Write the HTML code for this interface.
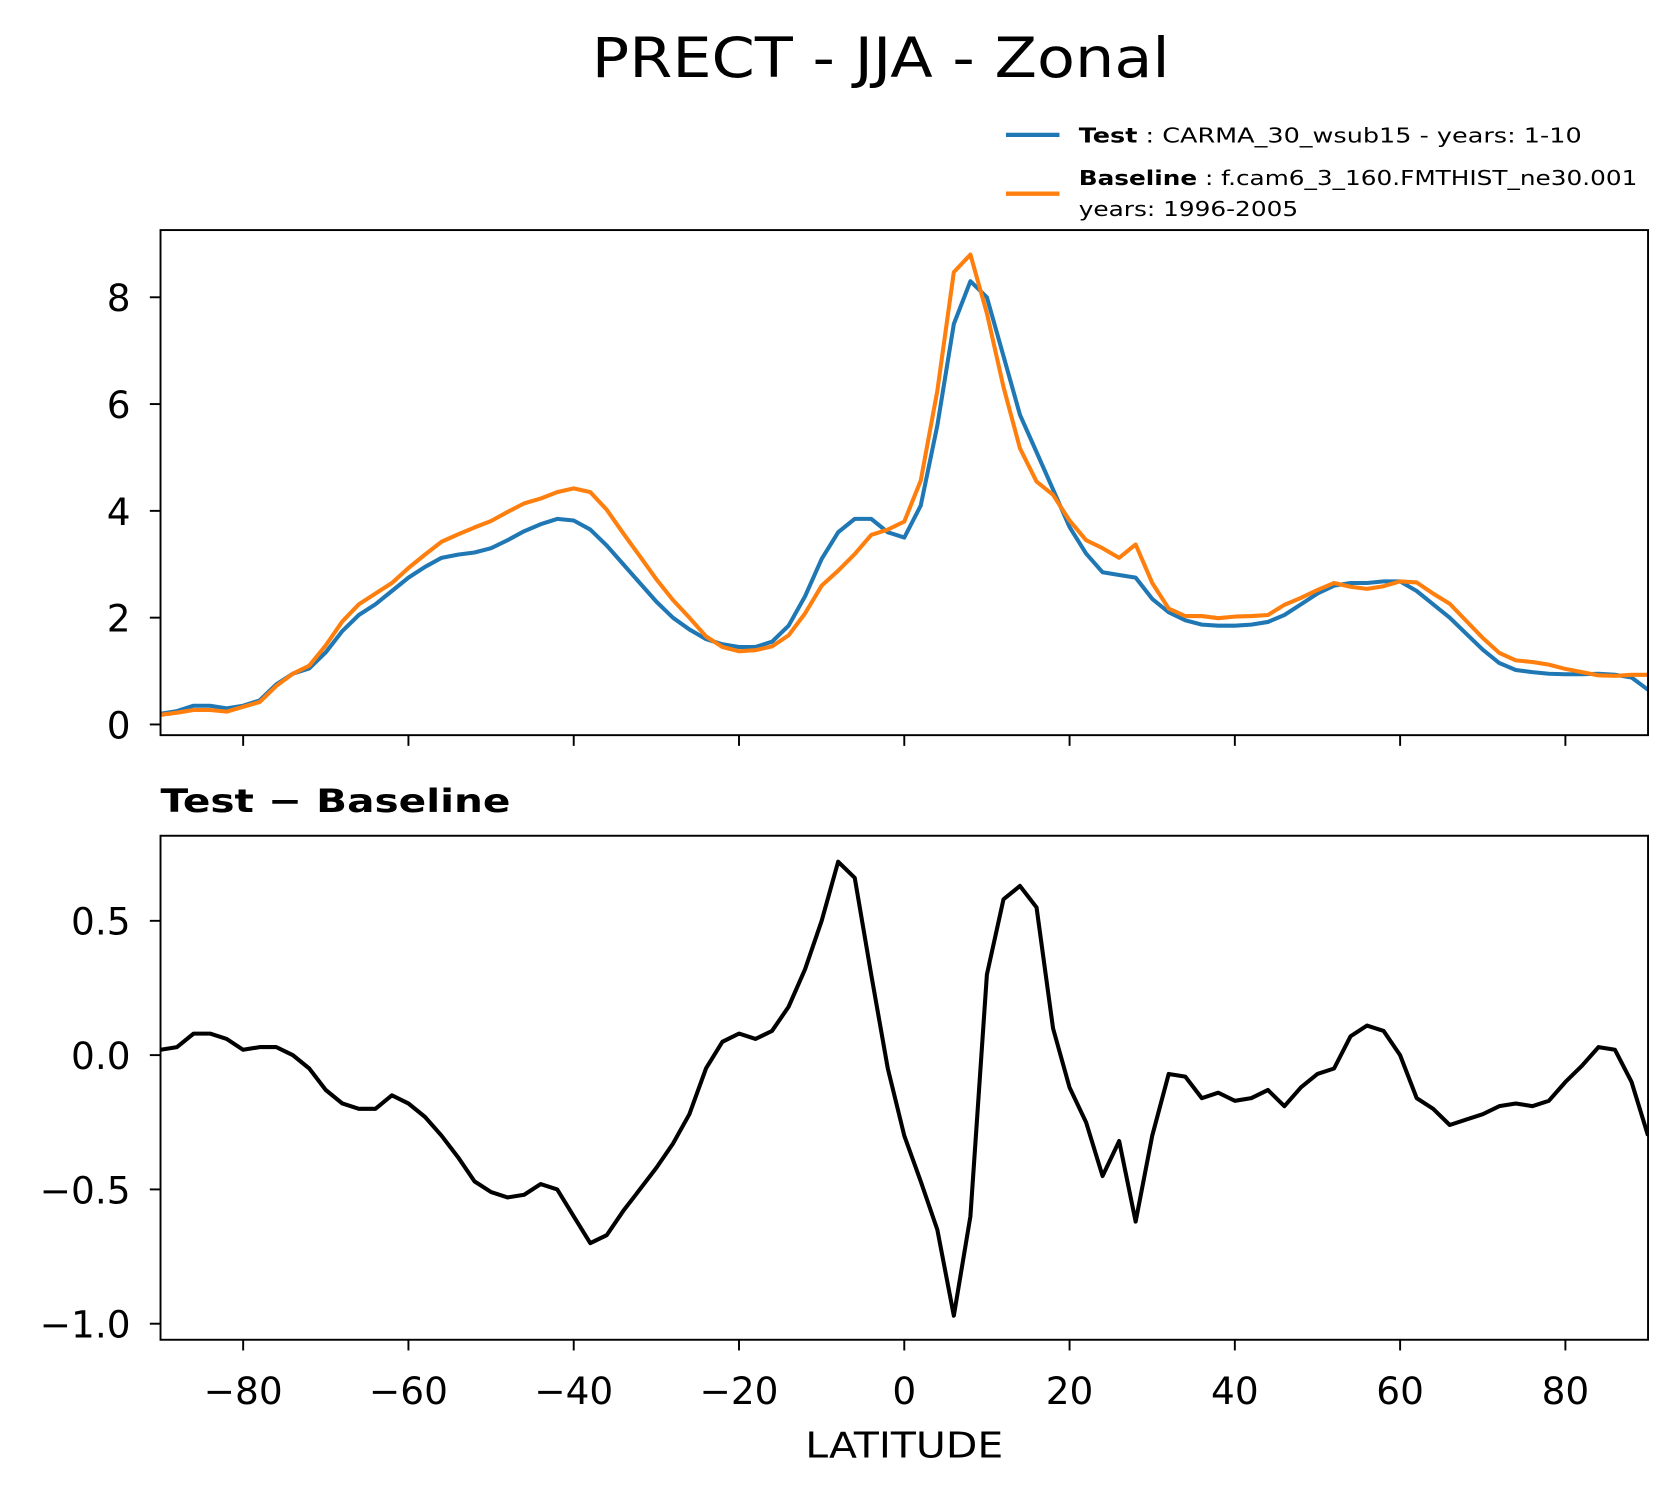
<!DOCTYPE html>
<html><head><meta charset="utf-8"><style>
body{margin:0;background:#fff}
svg text{font-family:"DejaVu Sans","Liberation Sans",sans-serif}
</style></head><body>
<svg id="chart" xmlns="http://www.w3.org/2000/svg" width="1678" height="1496" viewBox="0 0 1568 1398" preserveAspectRatio="none">
<rect width="1568" height="1398" fill="#fff"/>
<text x="823" y="72" font-size="52" text-anchor="middle" textLength="540" lengthAdjust="spacingAndGlyphs">PRECT - JJA - Zonal</text>
<g>
<line x1="940" y1="126" x2="990" y2="126" stroke="#1f77b4" stroke-width="4"/>
<text x="1008" y="133" font-size="19" textLength="470" lengthAdjust="spacingAndGlyphs"><tspan font-weight="bold">Test</tspan> : CARMA_30_wsub15 - years: 1-10</text>
<line x1="940" y1="181" x2="990" y2="181" stroke="#ff7f0e" stroke-width="4"/>
<text x="1008" y="173" font-size="19" textLength="522" lengthAdjust="spacingAndGlyphs"><tspan font-weight="bold">Baseline</tspan> : f.cam6_3_160.FMTHIST_ne30.001</text>
<text x="1008" y="202" font-size="19" textLength="205" lengthAdjust="spacingAndGlyphs">years: 1996-2005</text>
</g>
<g id="top"></g>
<g id="bot"></g>
<text x="150" y="759" font-size="30" font-weight="bold" textLength="327" lengthAdjust="spacingAndGlyphs">Test − Baseline</text>
<text x="845" y="1362" font-size="33" text-anchor="middle" textLength="185" lengthAdjust="spacingAndGlyphs">LATITUDE</text>
</svg>
<script>
const lats = [];
for (let i = -90; i <= 90; i += 2) lats.push(i);
const testVals = [0.2,0.25,0.35,0.35,0.3,0.35,0.45,0.75,0.95,1.05,1.35,1.75,2.05,2.25,2.5,2.75,2.95,3.12,3.18,3.22,3.3,3.45,3.62,3.75,3.85,3.82,3.65,3.35,3.0,2.65,2.3,2.0,1.78,1.6,1.5,1.45,1.45,1.55,1.85,2.4,3.1,3.6,3.85,3.85,3.6,3.5,4.1,5.6,7.5,8.3,8.0,6.9,5.8,5.1,4.4,3.7,3.2,2.85,2.8,2.75,2.35,2.1,1.95,1.87,1.85,1.85,1.87,1.92,2.05,2.25,2.45,2.6,2.65,2.65,2.68,2.68,2.5,2.25,2.0,1.7,1.4,1.15,1.02,0.98,0.95,0.94,0.94,0.95,0.93,0.88,0.65];
const baseVals = [0.18,0.22,0.27,0.27,0.24,0.33,0.42,0.72,0.95,1.1,1.48,1.93,2.25,2.45,2.65,2.93,3.18,3.42,3.56,3.69,3.81,3.98,4.14,4.23,4.35,4.42,4.35,4.02,3.58,3.15,2.72,2.33,2.0,1.65,1.45,1.37,1.39,1.46,1.67,2.08,2.6,2.88,3.19,3.55,3.65,3.8,4.57,6.25,8.47,8.8,7.7,6.32,5.17,4.55,4.3,3.82,3.45,3.3,3.12,3.37,2.65,2.17,2.03,2.03,1.99,2.02,2.03,2.05,2.24,2.37,2.52,2.65,2.58,2.54,2.59,2.68,2.66,2.45,2.26,1.94,1.62,1.34,1.2,1.17,1.12,1.04,0.98,0.92,0.91,0.93,0.93];
const diffVals = [0.02,0.03,0.08,0.08,0.06,0.02,0.03,0.03,0.0,-0.05,-0.13,-0.18,-0.2,-0.2,-0.15,-0.18,-0.23,-0.3,-0.38,-0.47,-0.51,-0.53,-0.52,-0.48,-0.5,-0.6,-0.7,-0.67,-0.58,-0.5,-0.42,-0.33,-0.22,-0.05,0.05,0.08,0.06,0.09,0.18,0.32,0.5,0.72,0.66,0.3,-0.05,-0.3,-0.47,-0.65,-0.97,-0.6,0.3,0.58,0.63,0.55,0.1,-0.12,-0.25,-0.45,-0.32,-0.62,-0.3,-0.07,-0.08,-0.16,-0.14,-0.17,-0.16,-0.13,-0.19,-0.12,-0.07,-0.05,0.07,0.11,0.09,0.0,-0.16,-0.2,-0.26,-0.24,-0.22,-0.19,-0.18,-0.19,-0.17,-0.1,-0.04,0.03,0.02,-0.1,-0.3];
const xTicks = [-80,-60,-40,-20,0,20,40,60,80];
const topTicks = [0,2,4,6,8];
const botTicks = [-1.0,-0.5,0.0,0.5];
const botTickLabels = ["−1.0","−0.5","0.0","0.5"];

const NS = "http://www.w3.org/2000/svg";
const X0 = 150, X1 = 1540;
const xs = v => X0 + (v + 90) / 180 * (X1 - X0);
const yTop = v => 677 - v * 49.9;
const yBot = v => 986 - v * 251;
function mk(parent, tag, attrs) { const e = document.createElementNS(NS, tag); for (const k in attrs) e.setAttribute(k, attrs[k]); parent.appendChild(e); return e; }
function panel(g, top, bot, yf, ticks, labels, showX) {
  const clipId = g.id + "clip";
  const cp = mk(g, "clipPath", {id: clipId});
  mk(cp, "rect", {x: X0, y: top, width: X1 - X0, height: bot - top});
  const series = mk(g, "g", {"clip-path": "url(#" + clipId + ")"});
  ticks.forEach((t, i) => {
    const y = yf(t);
    const tk = mk(g, "line", {x1: X0 - 10, x2: X0, y1: y, y2: y, stroke: "#000", "stroke-width": 1.8});
    
    
    const tx = mk(g, "text", {x: X0 - 28, y: y + 13, "font-size": 35, "text-anchor": "end"});
    tx.textContent = labels[i];
    
    
  });
  xTicks.forEach(t => {
    const x = xs(t);
    const tk = mk(g, "line", {x1: x, x2: x, y1: bot, y2: bot + 10, stroke: "#000", "stroke-width": 1.8});
    
    
    if (showX) {
      const tx = mk(g, "text", {x: x, y: bot + 60, "font-size": 35, "text-anchor": "middle"});
      tx.textContent = (t < 0 ? "−" : "") + Math.abs(t);
      
      
    }
  });
  const fr = mk(g, "rect", {x: X0, y: top, width: X1 - X0, height: bot - top, fill: "none", stroke: "#000", "stroke-width": 1.8});
  
  
  return series;
}
function line(g, vals, yf, color, name) {
  const p = mk(g, "polyline", {points: vals.map((v, i) => xs(lats[i]).toFixed(1) + "," + yf(v).toFixed(1)).join(" "), fill: "none", stroke: color, "stroke-width": 3.8, "stroke-linejoin": "round"});
  
  
}
const sTop = panel(document.getElementById("top"), 215, 687, yTop, topTicks, topTicks.map(String), false);
line(sTop, testVals, yTop, "#1f77b4", "test-line");
line(sTop, baseVals, yTop, "#ff7f0e", "baseline-line");
const sBot = panel(document.getElementById("bot"), 781, 1252, yBot, botTicks, botTickLabels, true);
line(sBot, diffVals, yBot, "#000", "difference-line");
</script>
</body></html>
